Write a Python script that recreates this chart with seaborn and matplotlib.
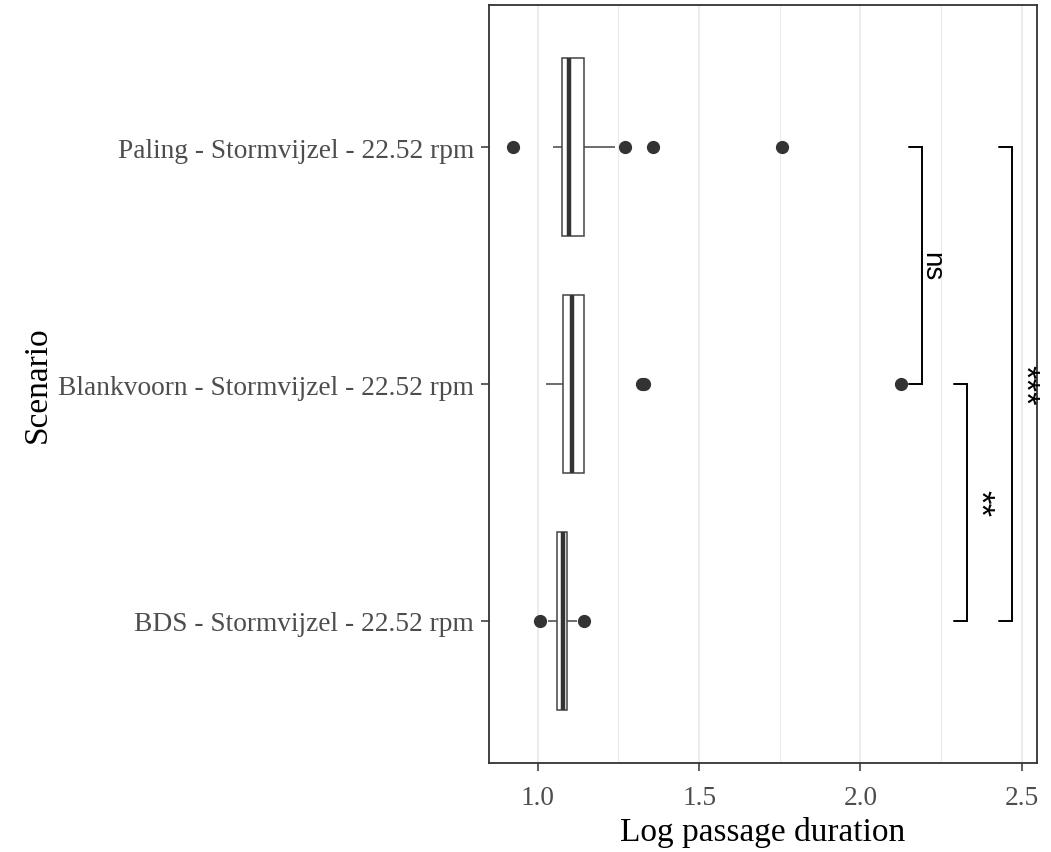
import matplotlib
matplotlib.use("Agg")
import matplotlib.pyplot as plt
from matplotlib.ticker import MultipleLocator
import seaborn as sns
import pandas as pd

# Log passage durations per scenario (sorted observations)
scenarios = [
    "Paling - Stormvijzel - 22.52 rpm",
    "Blankvoorn - Stormvijzel - 22.52 rpm",
    "BDS - Stormvijzel - 22.52 rpm",
]
paling = [0.923, 1.046, 1.058, 1.066, 1.074, 1.080, 1.086, 1.091, 1.096,
          1.104, 1.115, 1.128, 1.142, 1.238, 1.269, 1.356, 1.758]
blankvoorn = [1.025, 1.052, 1.064, 1.071, 1.077, 1.084, 1.092, 1.099, 1.105,
              1.113, 1.122, 1.132, 1.142, 1.142, 1.322, 1.330, 2.127]
bds = [1.006, 1.031, 1.042, 1.051, 1.059, 1.064, 1.069, 1.073, 1.077,
       1.080, 1.084, 1.087, 1.090, 1.098, 1.107, 1.121, 1.142]

# Pairwise comparisons: (first group, second group, bracket height, label)
comparisons = [
    (0, 1, 2.19, "ns"),
    (1, 2, 2.33, "**"),
    (0, 2, 2.47, "***"),
]

x_ticks = [1.0, 1.5, 2.0, 2.5]

df = pd.DataFrame({
    "Scenario": [scenarios[0]] * len(paling) + [scenarios[1]] * len(blankvoorn)
                + [scenarios[2]] * len(bds),
    "Log passage duration": paling + blankvoorn + bds,
})

sns.set_theme(style="white")
plt.rcParams["font.family"] = ["Liberation Serif", "DejaVu Serif"]

fig = plt.figure(figsize=(10.51, 8.53), dpi=100)
ax = fig.add_axes([0.4653, 0.1043, 0.9867 - 0.4653, 0.993 - 0.1043])

# grid (theme_bw look)
ax.set_axisbelow(True)
ax.xaxis.set_major_locator(MultipleLocator(0.5))
ax.xaxis.set_minor_locator(MultipleLocator(0.25))
ax.grid(which="major", axis="both", color="#EBEBEB", linewidth=1.4)
ax.grid(which="minor", axis="x", color="#EBEBEB", linewidth=0.8)

sns.boxplot(
    data=df, x="Log passage duration", y="Scenario", order=scenarios,
    orient="h", color="white", linecolor="#333333", linewidth=1.1,
    width=0.75, showcaps=False, fliersize=8.5, ax=ax,
    flierprops=dict(marker="o", markerfacecolor="#333333",
                    markeredgecolor="#333333"),
    medianprops=dict(linewidth=3.2, color="#333333"),
    boxprops=dict(facecolor="white", edgecolor="#444444"),
    whiskerprops=dict(color="#444444"),
)

ax.set_xlim(0.849, 2.547)
ax.set_ylim(2.6, -0.6)
ax.set_xticks(x_ticks)
ax.set_xticklabels([f"{t:.1f}" for t in x_ticks])

# significance brackets
tick_len = 0.04
for a, b, h, label in comparisons:
    ax.plot([h - tick_len, h, h, h - tick_len], [a, a, b, b],
            color="black", linewidth=1.4, solid_joinstyle="miter",
            clip_on=False, zorder=5)
    is_star = label.startswith("*")
    ax.text(h - 0.012, (a + b) / 2, label, rotation=-90,
            ha="left", va="center", fontsize=25 if is_star else 20,
            color="black", family=["Liberation Sans", "DejaVu Sans"],
            clip_on=False, zorder=5)

for side in ax.spines.values():
    side.set_visible(True)
    side.set_color("#333333")
    side.set_linewidth(1.3)

ax.tick_params(axis="both", which="major", length=6, width=1.1,
               color="#333333", labelcolor="#4D4D4D", labelsize=19.7,
               bottom=True, left=True)
ax.tick_params(axis="x", which="major", pad=10)
ax.tick_params(axis="y", which="major", pad=5)
ax.tick_params(axis="x", which="minor", length=0)
ax.set_xlabel("Log passage duration", fontsize=24, color="black", labelpad=4)
ax.set_ylabel("Scenario", fontsize=24, color="black", labelpad=4)

fig.savefig("out.png", dpi=100, facecolor="white")
